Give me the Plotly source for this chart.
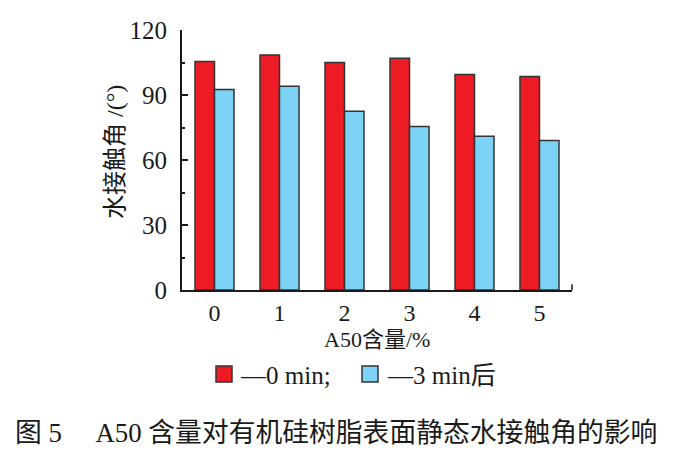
import plotly.graph_objects as go

categories = ["0", "1", "2", "3", "4", "5"]
angle_0min = [105.5, 108.5, 105, 107, 99.5, 98.5]
angle_3min = [92.5, 94, 82.5, 75.5, 71, 69]
y_ticks = [0, 30, 60, 90, 120]
legend_names = ["—0 min;", "—3 min后"]
colors = ["#ED1C24", "#7DD3F5"]

SERIF = "Liberation Serif, Times New Roman, Noto Sans CJK SC, serif"

L, R, T, B = 182, 102, 30, 162
W, H = 674, 452
PW, PH = W - L - R, H - T - B


def px(x):
    return (x - L) / PW


def py(y):
    return (H - B - y) / PH


fig = go.Figure()
for name, vals, col in zip(legend_names, [angle_0min, angle_3min], colors):
    fig.add_trace(go.Bar(x=categories, y=vals, name=name,
                         marker=dict(color=col, line=dict(color="#333333", width=1.5))))

fig.update_layout(
    width=W, height=H,
    margin=dict(l=L, r=R, t=T, b=B, autoexpand=False),
    paper_bgcolor="white", plot_bgcolor="white",
    barmode="group", bargap=0.4, bargroupgap=0,
    font=dict(family=SERIF, color="#1a1a1a", size=20),
    showlegend=False,
    xaxis=dict(type="category", showline=True, linecolor="#1a1a1a", linewidth=2,
               ticks="", tickfont=dict(size=24), showgrid=False, zeroline=False, automargin=False),
    yaxis=dict(range=[0, 120], tickvals=y_ticks, showline=True, linecolor="#1a1a1a", linewidth=2,
               ticks="inside", ticklen=6, tickwidth=1.5, tickcolor="#1a1a1a",
               minor=dict(dtick=15, ticks="inside", ticklen=3, tickwidth=1.5, tickcolor="#1a1a1a"),
               tickfont=dict(size=25), showgrid=False, zeroline=False, automargin=False,
               ticklabelstandoff=8),
)

# small closing tick at right end of x axis
fig.add_shape(type="line", xref="paper", yref="paper", x0=1, x1=1, y0=0, y1=0.022,
              line=dict(color="#1a1a1a", width=1.5))

# axis titles
fig.add_annotation(text="水接触角 /(°)", xref="paper", yref="paper", x=px(115), y=py(152),
                   xanchor="center", yanchor="middle", textangle=-90, showarrow=False,
                   font=dict(size=24, family=SERIF))
fig.add_annotation(text="A50含量/%", xref="paper", yref="paper", x=0.5, y=py(339),
                   xanchor="center", yanchor="middle", showarrow=False,
                   font=dict(size=22, family=SERIF))

# legend built from shapes + text
for (x0, tx), name, col in zip([(216, 238), (362, 385)], legend_names, colors):
    fig.add_shape(type="rect", xref="paper", yref="paper", x0=px(x0), x1=px(x0 + 16),
                  y0=py(382), y1=py(366), fillcolor=col, line=dict(color="#333333", width=1.5))
    fig.add_annotation(text=name, xref="paper", yref="paper", x=px(tx), y=py(375),
                       xanchor="left", yanchor="middle", showarrow=False,
                       font=dict(size=25, family=SERIF))

# caption
fig.add_annotation(text="图 5　 A50 含量对有机硅树脂表面静态水接触角的影响",
                   xref="paper", yref="paper", x=px(13), y=py(433), xanchor="left", yanchor="middle",
                   showarrow=False, font=dict(size=26.8, family=SERIF))

fig.write_html("out.html", config={"displayModeBar": False},
               post_script="document.body.style.margin='0';")
